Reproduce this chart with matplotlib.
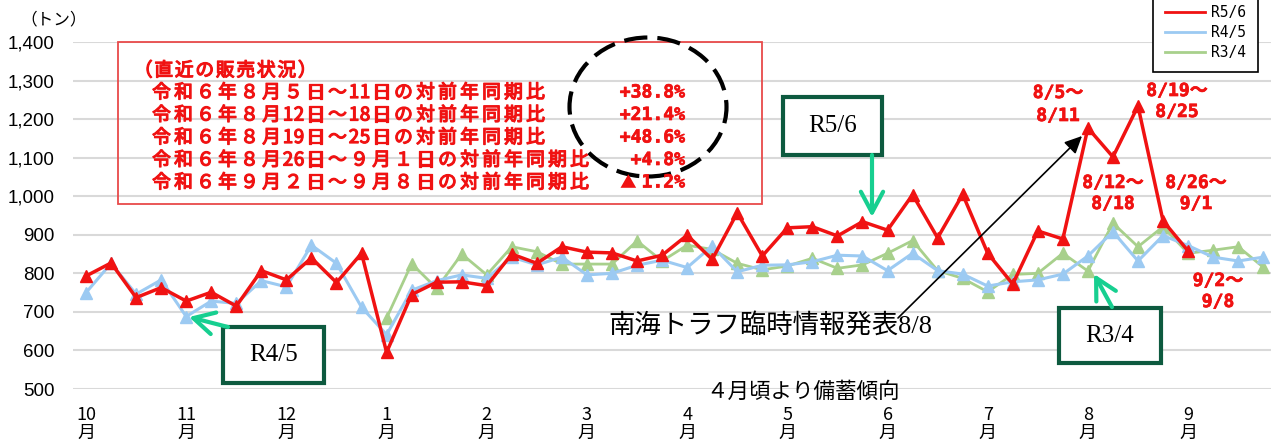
import numpy as np
import matplotlib
matplotlib.use('Agg')
import matplotlib.pyplot as plt
import matplotlib.patheffects as pe
from matplotlib.lines import Line2D
from matplotlib.patches import Rectangle, Ellipse, FancyArrowPatch

# フォント設定
plt.rcParams['font.family'] = ['Noto Sans CJK JP', 'DejaVu Sans']

# データ（週次販売量 トン）
MONTHS = ['10', '11', '12', '1', '2', '3', '4', '5', '6', '7', '8', '9']
R56 = [793, 827, 737, 763, 728, 751, 715, 807, 783, 840, 776, 852,
       595, 745, 777, 778, 768, 850, 826, 869, 855, 853, 832, 847,
       899, 836, 957, 845, 918, 921, 897, 934, 912, 1004, 892, 1005,
       852, 772, 910, 889, 1177, 1102, 1234, 936, 858]
R45 = [750, 826, 746, 783, 688, 728, 722, 781, 765, 873, 826, 712,
       641, 756, 781, 796, 787, 842, 822, 842, 796, 800, 821, 834,
       815, 871, 804, 821, 822, 830, 847, 845, 807, 852, 807, 798,
       767, 778, 783, 798, 845, 908, 832, 898, 872, 842, 832, 842]
R34 = [np.nan] * 12 + [
       684, 825, 761, 850, 796, 869, 856, 824, 824, 824, 884, 832,
       873, 862, 826, 809, 819, 839, 813, 822, 852, 885, 807, 787,
       752, 797, 800, 852, 806, 930, 869, 921, 852, 860, 869, 816]
Y_TICKS = list(range(500, 1401, 100))

SUMMARY_TITLE = '（直近の販売状況）'
SUMMARY_LINES = ['令和６年８月５日～11日の対前年同期比',
                 '令和６年８月12日～18日の対前年同期比',
                 '令和６年８月19日～25日の対前年同期比',
                 '令和６年８月26日～９月１日の対前年同期比',
                 '令和６年９月２日～９月８日の対前年同期比']
SUMMARY_PCT = ['+38.8%', '+21.4%', '+48.6%', '+4.8%', '▲1.2%']
PEAK_LABELS = [('8/5～', '8/11'), ('8/19～', '8/25'), ('8/12～', '8/18'),
               ('8/26～', '9/1'), ('9/2～', '9/8')]

RED = '#f01212'
BLUE = '#9ccaf2'
GREEN = '#a8d08c'
TEAL = '#17cf90'
DKGREEN = '#0d5a3f'
BOLD = [pe.withStroke(linewidth=0.9, foreground=RED)]

W, H = 1271, 440


def fx(x):
    return x / W


def fy(y):
    return 1 - y / H


fig = plt.figure(figsize=(W / 100, H / 100), dpi=100)
ax = fig.add_axes([fx(73), fy(389), (W - 73) / W, 347 / H])

ax.plot(np.arange(len(R34)), R34, color=GREEN, lw=2, marker='^', ms=9, zorder=3)
ax.plot(np.arange(len(R45)), R45, color=BLUE, lw=2.2, marker='^', ms=8.5, zorder=4)
ax.plot(np.arange(len(R56)), R56, color=RED, lw=2.5, marker='^', ms=9, zorder=5)

ax.set_xlim(-0.52, 47.31)
ax.set_ylim(500, 1400)
ax.set_yticks(Y_TICKS)
ax.set_yticklabels([f'{v:,}' for v in Y_TICKS], family='Liberation Sans', fontsize=13.5)
ax.set_xticks(np.arange(0, 48, 4))
ax.set_xticklabels([m + '\n月' for m in MONTHS], fontsize=13, linespacing=1.05)
ax.tick_params(axis='y', length=0, pad=13)
ax.tick_params(axis='x', length=0, pad=12)
ax.grid(axis='y', color='#d9d9d9', lw=1.5)
ax.set_axisbelow(True)
for s in ax.spines.values():
    s.set_visible(False)

# 凡例
handles = [Line2D([], [], color=RED, lw=2), Line2D([], [], color=BLUE, lw=2),
           Line2D([], [], color=GREEN, lw=2)]
leg = ax.legend(handles, ['R5/6', 'R4/5', 'R3/4'], loc='lower left',
                bbox_to_anchor=(fx(1153), fy(72)), bbox_transform=fig.transFigure,
                borderaxespad=0, borderpad=0.8, handlelength=2.75, handletextpad=0.45,
                labelspacing=0.35, fancybox=False, framealpha=1,
                prop={'family': 'DejaVu Sans Mono', 'size': 10.5})
leg.get_frame().set_edgecolor('black')
leg.get_frame().set_linewidth(1.2)


def spaced_text(x, y, s, pitch, **kw):
    # 全角は1ピッチ、半角は半ピッチで1文字ずつ置く
    for ch in s:
        adv = pitch / 2 if ord(ch) < 128 else pitch
        fig.text(fx(x + adv / 2), fy(y), ch, ha='center', va='baseline', **kw)
        x += adv


# 直近の販売状況
fig.add_artist(Rectangle((fx(118), fy(204)), (762 - 118) / W, (204 - 42) / H,
                         transform=fig.transFigure, fill=False, ec='#e84a4a', lw=1.3))
spaced_text(133, 76, SUMMARY_TITLE, 20.5, fontsize=13.5, color=RED, path_effects=BOLD)
baselines = [98, 120.5, 143, 165.5, 188]
for line, pct, b in zip(SUMMARY_LINES, SUMMARY_PCT, baselines):
    spaced_text(150.5, b, line, 22, fontsize=13.5, color=RED, path_effects=BOLD)
    if pct.startswith('▲'):
        fig.text(fx(628), fy(b), '▲', ha='center', va='baseline', color=RED, fontsize=12)
        pct = pct[1:]
    fig.text(fx(685), fy(b - 0.5), pct, ha='right', va='baseline', color=RED, weight='bold',
             fontsize=13, family=['DejaVu Sans Mono', 'DejaVu Sans'],
             path_effects=[pe.withStroke(linewidth=0.5, foreground=RED)])

fig.add_artist(Ellipse((fx(648), fy(107)), 157 / W, 139 / H, transform=fig.transFigure,
                       fill=False, ec='black', lw=3, ls=(0, (5.6, 2.4))))

# ピーク週ラベル
peak_pos = [(1058, 93, 116), (1177, 91, 112), (1113, 183, 204),
            (1196, 183, 204), (1218, 281, 302)]
for (l1, l2), (cx, y1, y2) in zip(PEAK_LABELS, peak_pos):
    for s, y in ((l1, y1), (l2, y2)):
        fig.text(fx(cx), fy(y), s, ha='center', va='center', color=RED, weight='bold',
                 fontsize=13, family=['DejaVu Sans Mono', 'Noto Sans CJK JP'],
                 path_effects=[pe.withStroke(linewidth=0.5, foreground=RED)])


def label_box(x0, y0, x1, y1, s):
    fig.add_artist(Rectangle((fx(x0), fy(y1)), (x1 - x0) / W, (y1 - y0) / H,
                             transform=fig.transFigure, fc='white', ec=DKGREEN, lw=3))
    fig.text(fx((x0 + x1) / 2), fy((y0 + y1) / 2), s, ha='center', va='center',
             family='Liberation Serif', fontsize=18)


def arrow(x0, y0, x1, y1, style, color, lw):
    fig.add_artist(FancyArrowPatch((fx(x0), fy(y0)), (fx(x1), fy(y1)),
                                   transform=fig.transFigure, arrowstyle=style,
                                   color=color, lw=lw, mutation_scale=10,
                                   shrinkA=0, shrinkB=0))


teal_style = '->,head_length=1.5,head_width=0.8'
label_box(783, 97, 882, 155, 'R5/6')
arrow(872, 155, 872, 217, teal_style, TEAL, 3)
label_box(223, 327, 324, 383, 'R4/5')
arrow(228, 327, 189, 317, teal_style, TEAL, 3)
label_box(1059, 308, 1161, 363, 'R3/4')
arrow(1112, 307, 1094, 274, teal_style, TEAL, 3)

arrow(898, 318, 1082, 136, '-|>,head_length=1.05,head_width=0.5', 'black', 1.2)
fig.text(fx(608), fy(325), '南海トラフ臨時情報発表8/8', ha='left', va='center',
         family=['Liberation Serif', 'Noto Sans CJK JP'], fontsize=19)
fig.text(fx(803), fy(392), '４月頃より備蓄傾向', ha='center', va='center', fontsize=15.5)
fig.text(fx(54), fy(20), '（トン）', ha='center', va='center', fontsize=12)

fig.savefig('out.png', dpi=100)
